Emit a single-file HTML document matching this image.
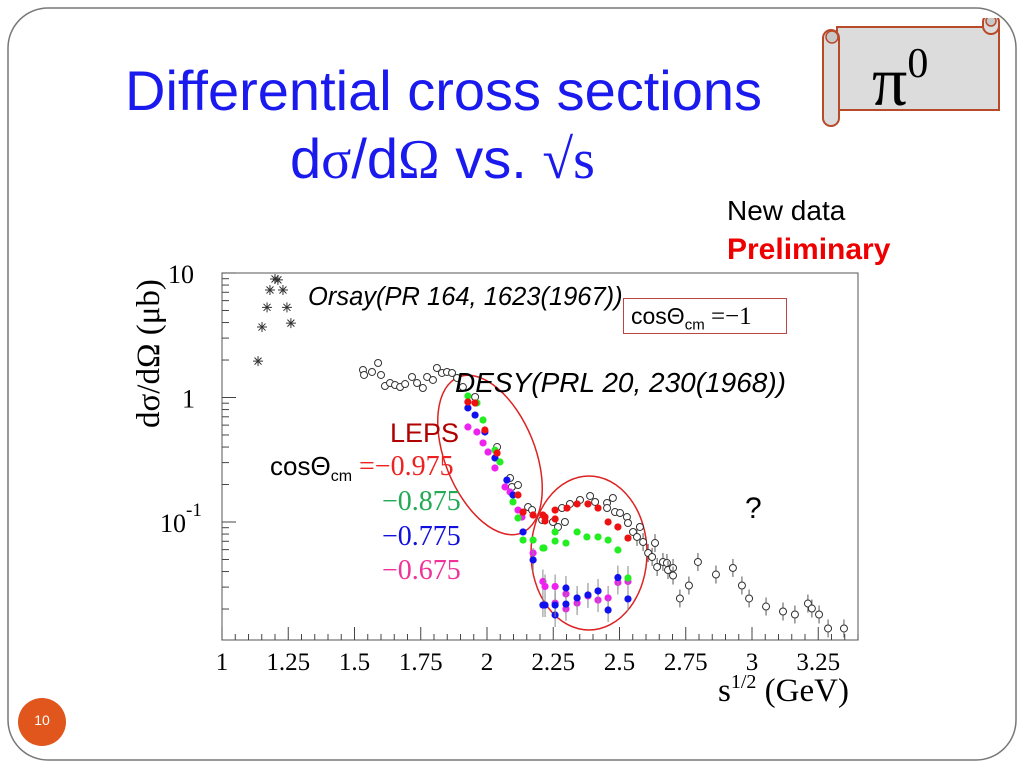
<!DOCTYPE html>
<html><head><meta charset="utf-8">
<style>
html,body{margin:0;padding:0;background:#fff;}
#page{position:relative;width:1024px;height:768px;overflow:hidden;font-family:"Liberation Sans",sans-serif;}
.t{position:absolute;white-space:nowrap;}
.serif{font-family:"Liberation Serif","DejaVu Serif",serif;}
</style></head>
<body>
<div id="page">
<svg width="1024" height="768" style="position:absolute;left:0;top:0">
  <rect x="8" y="8" width="1008" height="752" rx="40" ry="40" fill="none" stroke="#777" stroke-width="1.5"/>
  <circle cx="42" cy="722" r="24" fill="#e0561c"/>
</svg>
<div class="t" style="left:32px;top:712px;font-size:14px;color:#fff;width:20px;text-align:center">10</div>

<svg width="200" height="130" style="position:absolute;left:815px;top:18px">
  <rect x="22" y="9" width="162" height="83" fill="#dcdcdc" stroke="#b84a2a" stroke-width="2"/>
  <rect x="8" y="12" width="16" height="96" rx="8" fill="#dcdcdc" stroke="#b84a2a" stroke-width="2"/>
  <circle cx="17" cy="19" r="6" fill="#c8c8c8" stroke="#b84a2a" stroke-width="1.5"/>
  <rect x="168" y="-4" width="16" height="20" rx="8" fill="#dcdcdc" stroke="#b84a2a" stroke-width="2"/>
  <circle cx="176" cy="3" r="5" fill="#c8c8c8" stroke="#b84a2a" stroke-width="1.5"/>
</svg>
<div class="t serif" style="left:872px;top:30px;font-size:70px;line-height:68px;color:#000">π<sup style="font-size:42px;vertical-align:28px">0</sup></div>

<div class="t" style="left:125px;top:58px;font-size:56px;color:#1a1aee">Differential cross sections</div>
<div class="t" style="left:290px;top:126px;font-size:56px;color:#1a1aee">d<span class="serif">σ</span>/d<span class="serif">Ω</span> vs. <span class="serif">√s</span></div>

<div class="t" style="left:727px;top:195px;font-size:28px;color:#000">New data</div>
<div class="t" style="left:727px;top:233px;font-size:30px;color:#ee0000;font-weight:bold">Preliminary</div>

<svg id="chart" width="1024" height="768" style="position:absolute;left:0;top:0"></svg>

<div class="t serif" style="left:131px;top:428px;font-size:33px;color:#000;transform:rotate(-90deg);transform-origin:0 0;">dσ/dΩ (μb)</div>
<div class="t serif" style="left:718px;top:671px;font-size:33px;color:#000">s<sup style="font-size:20px;vertical-align:13px">1/2</sup> (GeV)</div>

<div class="t" style="left:308px;top:283px;font-size:25.5px;font-style:italic;color:#000">Orsay(PR 164, 1623(1967))</div>
<div class="t" style="left:455px;top:367px;font-size:28px;font-style:italic;color:#000">DESY(PRL 20, 230(1968))</div>
<div class="t" style="left:623px;top:298px;width:164px;height:36px;border:1px solid #b44;background:#fff;box-sizing:border-box;font-size:23px;line-height:34px;padding-left:7px">cosΘ<sub style="font-size:15px">cm</sub><span class="serif" style="font-size:25px"> =−1</span></div>
<div class="t" style="left:390px;top:418px;font-size:27px;color:#b00000">LEPS</div>
<div class="t" style="left:270px;top:451px;font-size:26px;color:#000">cosΘ<sub style="font-size:16px">cm</sub><span class="serif" style="color:#ee2222;font-size:28px"> =−0.975</span></div>
<div class="t serif" style="left:382px;top:486px;font-size:28px;color:#22aa55">−0.875</div>
<div class="t serif" style="left:382px;top:521px;font-size:28px;color:#1111dd">−0.775</div>
<div class="t serif" style="left:382px;top:555px;font-size:28px;color:#ee3399">−0.675</div>
<div class="t" style="left:745px;top:492px;font-size:30px;color:#000">?</div>

<script>
const xTicks=[1,1.25,1.5,1.75,2,2.25,2.5,2.75,3,3.25];
const xTickLabels=["1","1.25","1.5","1.75","2","2.25","2.5","2.75","3","3.25"];
const yTickVals=[10,1,0.1];
const orsayS=[1.136,1.151,1.17,1.181,1.2,1.211,1.23,1.245,1.26];
const orsayY=[1.96,3.68,5.3,7.3,8.95,8.8,7.3,5.3,3.96];
const desyS=[1.532,1.536,1.566,1.589,1.600,1.615,1.634,1.653,1.672,1.691,1.717,1.736,1.758,1.774,1.796,1.811,1.830,1.849,1.868,1.887,1.909,1.955,2.038,2.087,2.094,2.117,2.155,2.170,2.208,2.249,2.268,2.283,2.294,2.313,2.351,2.389,2.408,2.453,2.475,2.453,2.483,2.502,2.528,2.532,2.551,2.566,2.577,2.589,2.608,2.623,2.634,2.642,2.664,2.679,2.683,2.702,2.702,2.728,2.762,2.796,2.864,2.928,2.962,2.989,3.053,3.117,3.162,3.211,3.226,3.253,3.287,3.347];
const desyLogY=[0.221,0.181,0.205,0.277,0.181,0.092,0.116,0.100,0.084,0.108,0.165,0.116,0.076,0.165,0.141,0.237,0.197,0.205,0.197,0.157,0.084,0.004,-0.398,-0.647,-0.719,-0.703,-0.880,-0.904,-0.984,-1.000,-1.040,-0.888,-1.000,-0.855,-0.823,-0.791,-0.839,-0.847,-0.807,-0.888,-0.920,-0.928,-0.960,-1.008,-1.080,-1.120,-1.040,-1.161,-1.249,-1.281,-1.169,-1.361,-1.321,-1.329,-1.386,-1.369,-1.430,-1.614,-1.510,-1.321,-1.422,-1.369,-1.510,-1.614,-1.679,-1.719,-1.743,-1.655,-1.695,-1.743,-1.855,-1.855];
const lepsRedS=[1.928,1.955,1.992,2.038,2.117,2.174,2.219,2.136,2.211,2.219,2.257,2.257,2.302,2.340,2.381,2.419,2.457,2.494,2.532];
const lepsRedLogY=[-0.036,-0.044,-0.261,-0.446,-0.783,-0.944,-0.960,-0.920,-0.944,-0.992,-0.904,-0.976,-0.888,-0.855,-0.855,-0.888,-1.000,-1.040,-1.129];
const lepsGreenS=[1.928,1.962,1.985,2.030,2.049,2.098,2.117,2.136,2.174,2.211,2.215,2.257,2.257,2.298,2.340,2.377,2.419,2.457,2.494,2.532];
const lepsGreenLogY=[0.012,-0.044,-0.181,-0.422,-0.518,-0.839,-0.968,-1.145,-1.145,-1.209,-1.209,-1.153,-1.080,-1.169,-1.080,-1.120,-1.120,-1.145,-1.225,-1.450];
const lepsBlueS=[1.928,1.955,1.992,2.030,2.075,2.098,2.136,2.174,2.219,2.211,2.257,2.257,2.298,2.298,2.340,2.381,2.419,2.457,2.494,2.532];
const lepsBlueLogY=[-0.084,-0.141,-0.277,-0.486,-0.663,-0.783,-1.080,-1.305,-1.667,-1.667,-1.747,-1.667,-1.530,-1.659,-1.610,-1.586,-1.554,-1.707,-1.446,-1.618];
const lepsMagS=[1.928,1.962,1.985,2.004,2.030,2.068,2.087,2.117,2.132,2.174,2.211,2.219,2.257,2.257,2.298,2.298,2.340,2.381,2.419,2.457,2.494,2.532];
const lepsMagLogY=[-0.237,-0.277,-0.365,-0.438,-0.566,-0.719,-0.759,-0.904,-0.960,-1.249,-1.478,-1.518,-1.518,-1.651,-1.578,-1.698,-1.651,-1.594,-1.627,-1.610,-1.486,-1.478];

const NS="http://www.w3.org/2000/svg";
const svg=document.getElementById('chart');
const X0=222,X1=858,Y0=273,Y1=640;
function xs(s){return 222+(s-1)*265;}
function yl(l){return 397.5-l*124.5;}
function yv(v){return yl(Math.log10(v));}
function mk(tag,attrs,parent){const e=document.createElementNS(NS,tag);for(const k in attrs)e.setAttribute(k,attrs[k]);(parent||svg).appendChild(e);return e;}

const frame=mk('path',{d:`M${X0},${Y0} L${X1},${Y0} L${X1},${Y1} L${X0},${Y1} Z`,fill:'none',stroke:'#555','stroke-width':1});



for(let s=1;s<=3.4001;s+=0.05){
  const major=Math.abs(s*4-Math.round(s*4))<1e-6;
  const t=mk('line',{x1:xs(s),x2:xs(s),y1:Y1,y2:Y1-(major?13:6),stroke:'#444','stroke-width':1});
  
  
}
xTicks.forEach((v,i)=>{
  const t=mk('text',{x:xs(v),y:670,'text-anchor':'middle','font-family':'Liberation Serif, serif','font-size':25,fill:'#000'});
  t.textContent=xTickLabels[i];
  
  
});
for(let d=-2;d<=1;d++){
  for(let m=1;m<=9;m++){
    const v=m*Math.pow(10,d);
    const y=yv(v);
    if(y<Y0-0.5||y>Y1)continue;
    const t=mk('line',{x1:X0,x2:X0+(m===1?14:7),y1:y,y2:y,stroke:'#444','stroke-width':1});
    
    
  }
}
const yl10=mk('text',{x:168,y:yv(10)+10,'font-family':'Liberation Serif, serif','font-size':26});
yl10.textContent='10';


const yl1=mk('text',{x:182,y:yv(1)+10,'font-family':'Liberation Serif, serif','font-size':26});
yl1.textContent='1';


const yl01=mk('text',{x:160,y:yv(0.1)+10,'font-family':'Liberation Serif, serif','font-size':26});
yl01.innerHTML='10<tspan dy="-16" font-size="19">-1</tspan>';



const e1=mk('ellipse',{cx:490,cy:455,rx:45,ry:84,transform:'rotate(-22 490 455)',fill:'none',stroke:'#dd2222','stroke-width':1.5});


const e2=mk('ellipse',{cx:589,cy:553,rx:58,ry:77,fill:'none',stroke:'#dd2222','stroke-width':1.5});



orsayS.forEach((s,i)=>{
  const x=xs(s),y=yv(orsayY[i]);
  const g=mk('path',{d:`M${x-5},${y}L${x+5},${y}M${x-3.5},${y-3.5}L${x+3.5},${y+3.5}M${x-3.5},${y+3.5}L${x+3.5},${y-3.5}M${x},${y-5}L${x},${y+5}`,stroke:'#333','stroke-width':1});
  
  
});
desyS.forEach((s,i)=>{
  const x=xs(s),y=yl(desyLogY[i]);
  if(desyLogY[i]<-1.1){
    const eb=mk('line',{x1:x,x2:x,y1:y-9,y2:y+9,stroke:'#555','stroke-width':1});
    
    
  }
  const c=mk('circle',{cx:x,cy:y,r:3.5,fill:'#fff',stroke:'#333','stroke-width':1});
  
  
});
function leps(sArr,lArr,color,name){
  sArr.forEach((s,i)=>{
    const x=xs(s),y=yl(lArr[i]);
    if(lArr[i]<-1.3){
      const eb=mk('line',{x1:x,x2:x,y1:y-12,y2:y+12,stroke:'#888','stroke-width':1});
      
      
    }
    const c=mk('circle',{cx:x,cy:y,r:3.6,fill:color});
    
    
  });
}
leps(lepsMagS,lepsMagLogY,'#ee22ee','leps-0675');
leps(lepsBlueS,lepsBlueLogY,'#1111ee','leps-0775');
leps(lepsGreenS,lepsGreenLogY,'#22ee22','leps-0875');
leps(lepsRedS,lepsRedLogY,'#ee1111','leps-0975');
</script>
</div>
</body></html>
